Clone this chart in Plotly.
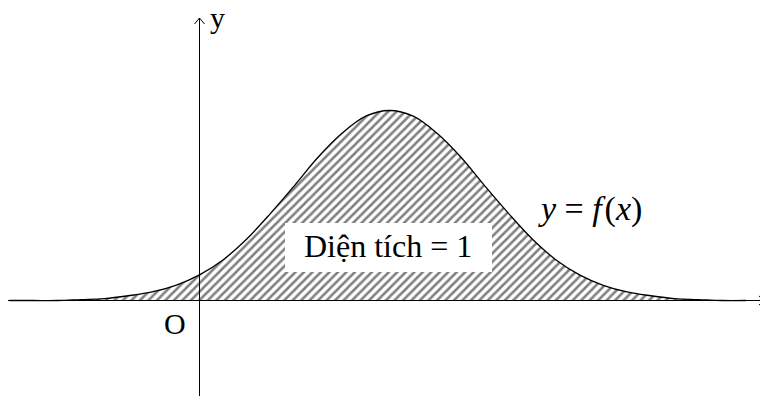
import plotly.graph_objects as go

# Curve values (x in axis units, y = f(x))
curve_x = [-2.0, -1.75, -1.5, -1.25, -1.0, -0.75, -0.5, -0.25, 0.0, 0.25, 0.5, 0.75,
           1.0, 1.25, 1.5, 1.75, 2.0, 2.25, 2.5, 2.75, 3.0, 3.25, 3.5, 3.75,
           4.0, 4.25, 4.5, 4.75, 5.0, 5.25, 5.5, 5.75]
curve_y = [0.00, 0.00, 0.00, 0.01, 0.02, 0.05, 0.09, 0.16, 0.27, 0.43, 0.65, 0.92,
           1.21, 1.51, 1.76, 1.94, 2.00, 1.94, 1.76, 1.51, 1.21, 0.92, 0.65, 0.43,
           0.27, 0.16, 0.09, 0.05, 0.02, 0.01, 0.00, 0.00]

area_label = "Diện tích = 1"
curve_label = "<i>y</i>&nbsp;=&nbsp;<i>f</i>&#8202;(<i>x</i>)"
origin_label = "O"
x_axis_label = "x"
y_axis_label = "y"

W, H = 768, 396
PAGE_OFF = 8          # default page margin of the html body
SCALE = 95.0          # pixels per unit
X0_PX, Y0_PX = 199.5, 300.5   # window pixel of the origin

def dx(p):
    return (p - X0_PX) / SCALE

def dy(p):
    return (Y0_PX - p) / SCALE

FONT = "Liberation Serif"

fig = go.Figure()
fig.add_trace(go.Scatter(
    x=curve_x, y=curve_y, mode="lines", line=dict(color="black", width=1.3, shape="spline"),
    fill="tozeroy", fillcolor="rgba(0,0,0,0)",
    fillpattern=dict(shape="/", fgcolor="black", bgcolor="white", size=6, solidity=0.42),
    hoverinfo="skip", showlegend=False,
))

line = dict(color="black", width=1)
shapes = [
    # axes
    dict(type="line", xref="x", yref="y", x0=dx(8), y0=0, x1=dx(765), y1=0, line=line),
    dict(type="line", xref="x", yref="y", x0=0, y0=dy(396), x1=0, y1=dy(18), line=line),
    # arrowheads
    dict(type="path", xref="x", yref="y",
         path=f"M {dx(759)},{dy(296)} L {dx(765)},0 L {dx(759)},{dy(305)}", line=line),
    dict(type="path", xref="x", yref="y",
         path=f"M {dx(194.5)},{dy(24)} L 0,{dy(18)} L {dx(204.5)},{dy(24)}", line=line),
    # white label box
    dict(type="rect", xref="x", yref="y", x0=dx(285), x1=dx(492), y0=dy(272), y1=dy(223),
         fillcolor="white", line=dict(width=0), layer="above"),
]

annotations = [
    dict(x=dx(388), y=dy(246), text=area_label, showarrow=False,
         font=dict(family=FONT, size=32, color="black")),
    dict(x=dx(590), y=dy(209), text=curve_label, showarrow=False,
         font=dict(family=FONT, size=34, color="black")),
    dict(x=dx(175), y=dy(323), text=origin_label, showarrow=False,
         font=dict(family=FONT, size=30, color="black")),
    dict(x=dx(208), y=dy(17), text=y_axis_label, showarrow=False, xanchor="left",
         font=dict(family=FONT, size=30, color="black")),
    dict(x=dx(761), y=dy(280), text=x_axis_label, showarrow=False, xanchor="left",
         font=dict(family=FONT, size=30, color="black")),
]

fig.update_layout(
    width=W, height=H, margin=dict(l=0, r=0, t=0, b=0),
    paper_bgcolor="white", plot_bgcolor="white",
    xaxis=dict(range=[dx(PAGE_OFF), dx(W + PAGE_OFF)], visible=False, fixedrange=True),
    yaxis=dict(range=[dy(H + PAGE_OFF), dy(PAGE_OFF)], visible=False, fixedrange=True),
    shapes=shapes, annotations=annotations, showlegend=False,
)

fig.write_html("out.html")
